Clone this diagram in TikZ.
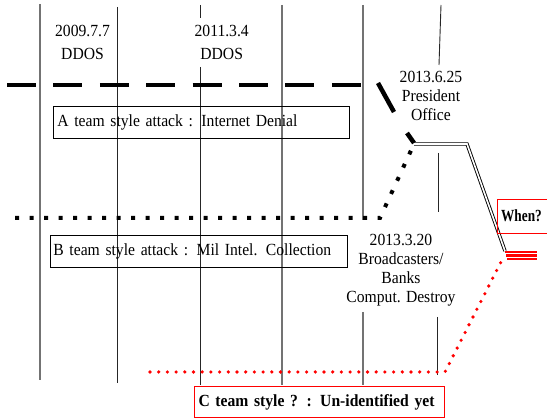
\documentclass[tikz,border=0pt]{standalone}
\usepackage{fontspec}
\setmainfont[FakeStretch=0.92]{Liberation Serif}
\begin{document}
\begin{tikzpicture}[x=1pt,y=-1pt,
  vline/.style={line width=0.9pt, black!85},
  gline/.style={line width=1.3pt, black!55},
  lab/.style={inner sep=0pt, align=center, font=\fontsize{17}{19}\selectfont},
  labw/.style={inner sep=0pt, align=center, font=\fontsize{17}{23.5}\selectfont},
  teambox/.style={draw, line width=0.8pt, anchor=north west, inner ysep=0pt, align=left,
    font=\fontsize{17}{19}\selectfont},
  redbox/.style={draw=red, line width=1pt},
  lineA/.style={line width=4.5pt},
  lineB/.style={line width=4pt, dash pattern=on 4pt off 10.5pt},
  lineC/.style={red, line width=3.6pt, line cap=round, dash pattern=on 0pt off 8.7pt},
  dbl/.style={double, double distance=1.6pt, line width=0.9pt}]
\useasboundingbox (0,0) rectangle (547,419);
% vertical time lines
\draw[gline] (40,4) -- (40,380);
\draw[vline] (117,7) -- (117,383);
\draw[vline] (200,5) -- (200,18);
\draw[vline] (200,67) -- (200,385);
\draw[gline] (282,5) -- (282,385);
\draw[gline] (363,5) -- (363,220);
\draw[gline] (363,312) -- (363,385);
\draw[vline] (441,5) -- (439,65);
\draw[vline] (438,153) -- (438,212);
\draw[vline] (437,317) -- (437,375);
% labels (anchor base = baseline of last line)
\node[labw, anchor=base] (d1) at (82.5,60) {2009.7.7\\DDOS};
\node[labw, anchor=base] (d2) at (221.7,60) {2011.3.4\\DDOS};
\node[lab, anchor=base] (d3) at (431,121) {2013.6.25\\President\\Office};
\node[lab, anchor=base] (d4) at (401,303) {2013.3.20\\Broadcasters/\\Banks\\Comput. Destroy};
% A line
\draw[lineA, dash pattern=on 29pt off 17.4pt] (7,85) -- (362,85);
\draw[lineA] (378,83) -- (394,112);
\draw[lineA] (407,133) -- (414,143);
\coordinate (p1) at (414,144);
\coordinate (p2) at (467,144);
\coordinate (p3) at (505,251);
\draw[dbl] (p1) -- (p2) -- (p3);
\draw[red, line width=2.2pt] (505,252) -- (537,252);
\draw[red, line width=2.2pt] (506,255.5) -- (537,255.5);
\draw[red, line width=2.2pt] (507,259) -- (537,259);
% B line
\draw[lineB] (15,218) -- (380,218) -- (p1);
% C line
\draw[lineC] (150,372) -- (445,372) -- (503,258);
% boxes
\node[teambox, text width=288pt, inner xsep=4pt, minimum height=32pt] (boxA) at (53,106)
  {A team style attack : Internet Denial};
\node[teambox, text width=291pt, inner xsep=3pt, minimum height=32pt] (boxB) at (50,235)
  {B team style attack : Mil Intel. Collection};
\node[teambox, draw=red, line width=1pt, text width=242pt, inner xsep=4pt, minimum height=31pt, font=\fontsize{17}{19}\selectfont\bfseries] (boxC) at (194,386)
  {C team style ? : Un-identified yet};
\node[inner sep=0pt, anchor=base west, font=\fontsize{17}{19}\selectfont\bfseries] (when) at (501,222) {\scalebox{0.85}[1]{When?}};
\draw[redbox] (547,200) -- (497,200) -- (497,234) -- (547,234);
\end{tikzpicture}
\end{document}
